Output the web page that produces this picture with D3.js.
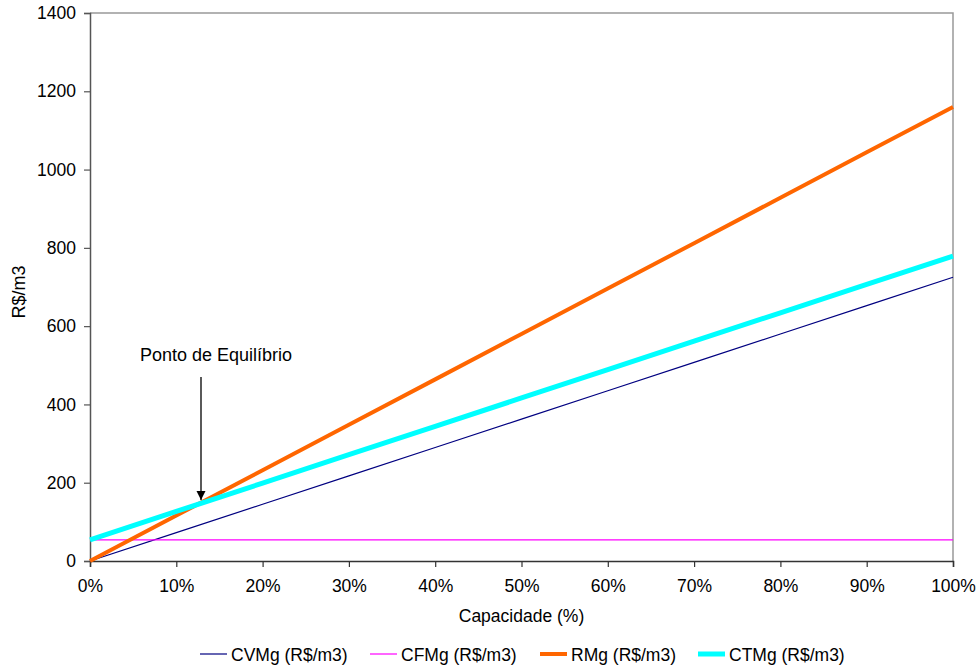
<!DOCTYPE html>
<html>
<head>
<meta charset="utf-8">
<script src="https://cdn.jsdelivr.net/npm/d3@7"></script>
<style>
  body { margin: 0; background: #fff; }
  text { font-family: "Liberation Sans", Arial, sans-serif; fill: #000; }
</style>
</head>
<body>
<svg id="chart" width="979" height="668"></svg>
<script>
// Capacity utilisation (%) and the cost / revenue curves per m3
const capacidade = [0, 10, 20, 30, 40, 50, 60, 70, 80, 90, 100];
const cvmg = [0, 72.5, 145, 217.5, 290, 362.5, 435, 507.5, 580, 652.5, 725];
const cfmg = [54, 54, 54, 54, 54, 54, 54, 54, 54, 54, 54];
const rmg  = [0, 116, 232, 348, 464, 580, 696, 812, 928, 1044, 1160];
const ctmg = [54, 126.5, 199, 271.5, 344, 416.5, 489, 561.5, 634, 706.5, 779];
const yTicks = [0, 200, 400, 600, 800, 1000, 1200, 1400];
const xTicks = [0, 10, 20, 30, 40, 50, 60, 70, 80, 90, 100];

const series = [
  { name: "CVMg (R$/m3)", values: cvmg, color: "#000080", width: 1.2 },
  { name: "CFMg (R$/m3)", values: cfmg, color: "#FF00FF", width: 1.2 },
  { name: "RMg (R$/m3)",  values: rmg,  color: "#FF6600", width: 4 },
  { name: "CTMg (R$/m3)", values: ctmg, color: "#00FFFF", width: 5 }
];

const FS = "17.5px";
const svg = d3.select("#chart");
const m = { left: 90, right: 953, top: 13, bottom: 561 };

const x = d3.scaleLinear().domain([0, 100]).range([m.left, m.right]);
const y = d3.scaleLinear().domain([0, 1400]).range([m.bottom, m.top]);

// plot frame: light top and right edges
svg.append("path")
  .attr("d", `M${m.left},${m.top}H${m.right}V${m.bottom}`)
  .attr("fill", "none").attr("stroke", "#999").attr("stroke-width", 1.5);

// y axis
const yAxis = svg.append("g").attr("transform", `translate(${m.left},0)`)
  .call(d3.axisLeft(y).tickValues(yTicks).tickSize(6).tickPadding(8).tickFormat(d3.format("d")));
yAxis.select(".domain").attr("stroke", "#555").attr("stroke-width", 1.5);
yAxis.selectAll(".tick line").attr("stroke", "#555").attr("stroke-width", 1.2);
yAxis.selectAll("text").style("font-size", FS).attr("font-family", "Liberation Sans, Arial, sans-serif");

// x axis
const xAxis = svg.append("g").attr("transform", `translate(0,${m.bottom})`)
  .call(d3.axisBottom(x).tickValues(xTicks).tickSize(6).tickPadding(13).tickFormat(d => d + "%"));
xAxis.select(".domain").attr("stroke", "#333").attr("stroke-width", 1.5);
xAxis.selectAll(".tick line").attr("stroke", "#333").attr("stroke-width", 1.2);
xAxis.selectAll("text").style("font-size", FS).attr("font-family", "Liberation Sans, Arial, sans-serif");

// axis titles
svg.append("text").attr("x", (m.left + m.right) / 2).attr("y", 622)
  .attr("text-anchor", "middle").style("font-size", FS).text("Capacidade (%)");
svg.append("text").attr("transform", "translate(25,292) rotate(-90)")
  .attr("text-anchor", "middle").style("font-size", "18px").text("R$/m3");

// curves
const line = vals => d3.line().x((d, i) => x(capacidade[i])).y(d => y(d))(vals);
series.forEach(s => {
  svg.append("path").attr("d", line(s.values))
    .attr("fill", "none").attr("stroke", s.color).attr("stroke-width", s.width);
});

// break-even annotation
svg.append("defs").append("marker")
  .attr("id", "arrow").attr("viewBox", "0 0 10 10").attr("refX", 10).attr("refY", 5)
  .attr("markerWidth", 9).attr("markerHeight", 10).attr("markerUnits", "userSpaceOnUse")
  .attr("orient", "auto")
  .append("path").attr("d", "M0,0L10,5L0,10Z").attr("fill", "#000");
svg.append("line").attr("x1", 201).attr("y1", 377).attr("x2", 201).attr("y2", 500)
  .attr("stroke", "#000").attr("stroke-width", 1.3).attr("marker-end", "url(#arrow)");
svg.append("text").attr("x", 140).attr("y", 361).style("font-size", "18px").text("Ponto de Equilíbrio");

// legend
const legendX = [200, 370, 540, 698];
const lg = svg.append("g");
series.forEach((s, i) => {
  const g = lg.append("g").attr("transform", `translate(${legendX[i]},654)`);
  g.append("line").attr("x1", 0).attr("x2", 27).attr("y1", 0).attr("y2", 0)
    .attr("stroke", s.color).attr("stroke-width", s.width);
  g.append("text").attr("x", 31).attr("y", 7).style("font-size", FS).text(s.name);
});
</script>
</body>
</html>
